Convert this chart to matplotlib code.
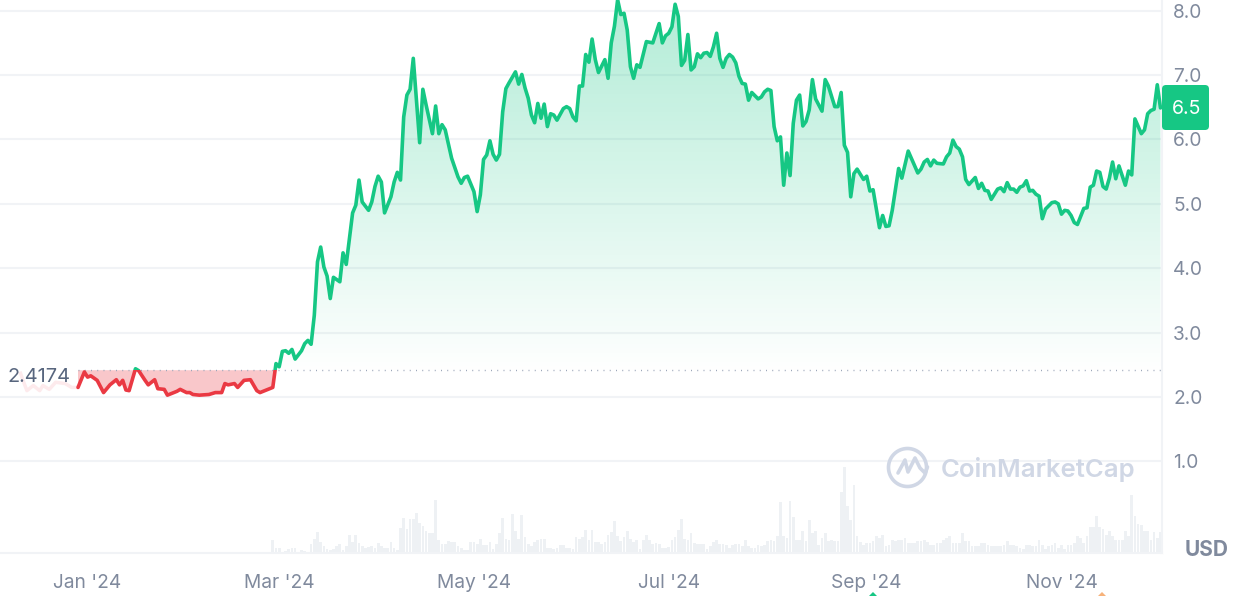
import numpy as np
import matplotlib
matplotlib.use("Agg")
import matplotlib.pyplot as plt
from matplotlib.colors import LinearSegmentedColormap
from matplotlib.patches import Rectangle, FancyBboxPatch
from matplotlib.lines import Line2D
from matplotlib.transforms import IdentityTransform

plt.rcParams['font.family'] = ['Inter', 'DejaVu Sans']

# ---- data ----
base_price = 2.4174
last_price = "6.5"
price_ticks = [1, 2, 3, 4, 5, 6, 7, 8]
price_tick_labels = ["1.0", "2.0", "3.0", "4.0", "5.0", "6.0", "7.0", "8.0"]
month_ticks = [0, 60, 121, 182, 244, 305]          # days since 1 Jan 2024
month_labels = ["Jan '24", "Mar '24", "May '24", "Jul '24", "Sep '24", "Nov '24"]

days = [
    -3, -1, 0, 1, 3, 5, 7, 9, 10, 11,
    12, 13, 15, 16, 18, 19, 21, 22, 24, 25,
    27, 28, 29, 31, 32, 33, 35, 38, 40, 42,
    43, 44, 46, 47, 49, 51, 53, 54, 56, 58,
    59, 60, 61, 62, 63, 64, 65, 67, 68, 69,
    70, 71, 72, 73, 74, 75, 76, 77, 79, 80,
    81, 83, 84, 85, 86, 88, 89, 90, 91, 92,
    93, 95, 96, 97, 98, 99, 100, 101, 102, 103,
    104, 105, 106, 108, 109, 110, 111, 112, 114, 116,
    117, 118, 119, 121, 122, 123, 124, 125, 126, 127,
    128, 129, 130, 131, 132, 134, 135, 136, 137, 138,
    139, 140, 141, 142, 143, 144, 145, 146, 147, 149,
    150, 151, 152, 153, 154, 155, 156, 157, 158, 159,
    160, 162, 163, 164, 165, 166, 167, 168, 169, 170,
    171, 172, 173, 175, 177, 179, 180, 181, 182, 183,
    184, 185, 186, 187, 188, 189, 190, 191, 192, 193,
    194, 195, 196, 197, 198, 199, 200, 201, 202, 203,
    204, 205, 206, 207, 208, 210, 211, 212, 213, 214,
    215, 216, 217, 218, 219, 220, 221, 222, 223, 224,
    225, 226, 227, 228, 230, 231, 232, 234, 235, 236,
    237, 238, 239, 240, 241, 243, 244, 245, 246, 248,
    249, 250, 251, 252, 254, 255, 257, 260, 261, 262,
    263, 264, 265, 266, 268, 269, 270, 271, 272, 273,
    274, 275, 276, 278, 279, 280, 281, 282, 283, 285,
    286, 287, 288, 289, 290, 291, 292, 293, 294, 295,
    296, 297, 298, 299, 300, 302, 303, 304, 305, 306,
    307, 308, 309, 310, 312, 313, 314, 315, 316, 317,
    318, 319, 320, 321, 322, 323, 325, 326, 327, 328,
    330, 331, 332, 333, 334, 335, 336,
]
prices = [
    2.15, 2.39, 2.31, 2.33, 2.26, 2.07, 2.19, 2.27, 2.19, 2.26,
    2.11, 2.10, 2.44, 2.41, 2.26, 2.19, 2.27, 2.13, 2.12, 2.03,
    2.07, 2.09, 2.12, 2.07, 2.07, 2.04, 2.03, 2.04, 2.07, 2.07,
    2.21, 2.19, 2.21, 2.15, 2.26, 2.27, 2.10, 2.07, 2.11, 2.15,
    2.52, 2.47, 2.71, 2.72, 2.68, 2.74, 2.59, 2.72, 2.83, 2.88,
    2.82, 3.27, 4.10, 4.33, 4.02, 3.88, 3.53, 3.86, 3.79, 4.24,
    4.06, 4.86, 4.98, 5.37, 5.03, 4.90, 5.03, 5.27, 5.43, 5.34,
    4.86, 5.11, 5.34, 5.49, 5.37, 6.35, 6.69, 6.78, 7.26, 6.61,
    5.95, 6.78, 6.54, 6.09, 6.52, 6.09, 6.23, 6.15, 5.71, 5.42,
    5.32, 5.41, 5.43, 5.19, 4.88, 5.14, 5.69, 5.76, 5.98, 5.77,
    5.68, 5.77, 6.43, 6.79, 6.88, 7.05, 6.86, 7.01, 6.80, 6.64,
    6.38, 6.26, 6.56, 6.33, 6.55, 6.20, 6.40, 6.38, 6.30, 6.48,
    6.51, 6.48, 6.35, 6.29, 6.83, 6.83, 7.32, 7.20, 7.56, 7.24,
    7.04, 7.24, 6.95, 7.50, 7.76, 8.17, 7.94, 7.96, 7.70, 7.13,
    6.95, 7.16, 7.12, 7.52, 7.50, 7.80, 7.50, 7.61, 7.65, 7.75,
    8.10, 7.91, 7.15, 7.23, 7.63, 7.08, 7.13, 7.33, 7.27, 7.34,
    7.35, 7.29, 7.44, 7.65, 7.26, 7.12, 7.26, 7.32, 7.28, 7.19,
    6.98, 6.87, 6.86, 6.61, 6.73, 6.63, 6.66, 6.74, 6.78, 6.76,
    6.20, 5.98, 6.04, 5.29, 5.79, 5.44, 6.25, 6.61, 6.69, 6.21,
    6.28, 6.46, 6.93, 6.63, 6.44, 6.93, 6.83, 6.51, 6.51, 6.73,
    5.91, 5.80, 5.11, 5.47, 5.54, 5.38, 5.43, 5.20, 5.22, 4.63,
    4.82, 4.65, 4.66, 4.90, 5.55, 5.40, 5.82, 5.48, 5.54, 5.65,
    5.69, 5.59, 5.68, 5.63, 5.62, 5.73, 5.79, 5.99, 5.89, 5.85,
    5.73, 5.38, 5.30, 5.41, 5.24, 5.32, 5.21, 5.20, 5.07, 5.23,
    5.25, 5.19, 5.33, 5.23, 5.23, 5.18, 5.26, 5.28, 5.36, 5.20,
    5.21, 5.15, 5.12, 4.77, 4.92, 5.02, 5.03, 5.00, 4.84, 4.90,
    4.89, 4.82, 4.71, 4.68, 4.93, 4.94, 5.26, 5.29, 5.51, 5.49,
    5.27, 5.23, 5.40, 5.65, 5.39, 5.59, 5.29, 5.51, 5.45, 6.32,
    6.09, 6.15, 6.40, 6.45, 6.47, 6.85, 6.49,
]

# Part of the history that is faded out before the selected period
faded_days = [-21, -20, -19, -17, -15, -14, -12, -10, -7, -5, -3]
faded_prices = [2.37, 2.23, 2.10, 2.18, 2.10, 2.18, 2.12, 2.23, 2.21, 2.15, 2.15]

# Volume in relative units
vol_early_start = -27
vol_early = [1] * 85
vol_a_start = 58
vol_a = [
    13, 5, 5, 1, 2, 4, 5, 5, 1, 3, 2, 1, 9, 14, 21, 11, 7, 4, 3, 4,
    7, 9, 3, 7, 18, 11, 18, 10, 7, 5, 6, 7, 5, 10, 7, 5, 5, 11, 5, 3,
    25, 35, 24, 34, 34, 40, 30, 27, 22, 20, 20, 53, 13, 9, 9, 12, 11, 11, 7, 5,
    3, 3, 11, 11, 9, 14, 8, 8, 11, 4, 9, 20, 35, 14, 13, 39, 22, 14, 38, 16,
    9, 7, 11, 13, 14, 14, 5, 5, 4, 5, 8, 8, 5, 5, 4, 16, 14, 16, 23, 13,
    23, 11, 11, 9, 11, 18, 21, 32, 17, 12, 16, 22, 14, 11, 13, 4, 13, 18, 13, 9,
    10, 9, 5, 5, 6, 13, 16, 23, 34, 14, 13, 20, 10, 9, 9, 9, 4, 7, 11, 13,
    9, 9, 8, 5, 8, 9, 9, 7, 13, 7, 5, 5, 8,
]
vol_b_start = 211
vol_b = [
    7, 8, 12, 13, 12, 17, 51, 17, 15, 52, 36, 13, 13, 22, 12, 33, 20, 22, 8, 15,
    20, 12, 13, 12, 12, 61, 86, 47, 33, 68, 17, 11, 8, 10, 10, 12, 17, 15, 18, 7,
    8, 13, 12, 13, 13, 15, 10, 10, 10, 12, 12, 13, 11, 8, 8, 10, 10, 13, 15, 17,
    10, 10, 10, 20, 12, 12, 7, 7, 7, 10, 10, 8, 7, 7, 7, 7, 8, 12, 8, 8,
    7, 5, 4, 8, 8, 7, 7, 13, 8, 4, 7, 8, 10, 5, 8, 4, 8, 8, 10, 17,
    15, 10, 17, 26, 26, 37, 26, 24, 18, 22, 17, 13, 13, 13, 22, 17, 58, 37, 29, 28,
    22, 22, 13, 21, 15, 21,
]

# ---- style ----
GREEN = "#16c784"
RED = "#ea3943"
GRID = "#f1f3f6"
BAR = "#eef1f4"
TEXT = "#808a9d"
W, H = 1244, 596

fig = plt.figure(figsize=(W / 100, H / 100), dpi=100, facecolor="white")
ax = fig.add_axes([0, (H - 553) / H, 1162 / W, 553 / H])
ax2 = ax.twinx()
ax.set_zorder(2)
ax.patch.set_visible(False)
ax2.set_zorder(1)

x0, x1 = -27.43, 336.48
y0, y1 = -0.421, 8.166
d = np.array(days, float)
p = np.array(prices, float)

# volume
for start, vals in ((vol_early_start, vol_early), (vol_a_start, vol_a), (vol_b_start, vol_b)):
    ax2.bar(np.arange(start, start + len(vals)), vals, width=0.85, color=BAR, linewidth=0)
ax2.set_ylim(0, 553)
ax2.set_xlim(x0, x1)
ax2.set_yticks([])
for s in ax2.spines.values():
    s.set_visible(False)

# grid
for v in price_ticks:
    ax.axhline(v, color=GRID, lw=1.5, zorder=1)

# red area (below the base price) and green gradient area (above)
ax.fill_between(d, p, base_price, where=p <= base_price, interpolate=True,
                color=RED, alpha=0.28, linewidth=0, zorder=2)
poly = ax.fill_between(d[d >= 58], p[d >= 58], base_price, where=p[d >= 58] >= base_price,
                       interpolate=True, color="none", linewidth=0, zorder=2)
cmap = LinearSegmentedColormap.from_list(
    "g", [(0.086, 0.78, 0.518, 0.33), (0.086, 0.78, 0.518, 0.005)])
grad = ax.imshow(np.linspace(0, 1, 256).reshape(-1, 1), extent=(x0, x1, base_price, y1),
                 aspect="auto", cmap=cmap, origin="upper", zorder=2, interpolation="bilinear")
grad.set_clip_path(poly.get_paths()[0], transform=ax.transData)

# base price dotted line
ax.plot([d[0], x1], [base_price, base_price], color="#9aa5b8", lw=1.0,
        linestyle=(0, (0.7, 3.8)), zorder=3)

# faded line, price line split on the base price
ax.plot(faded_days, faded_prices, color="#fdeaec", lw=2.5, zorder=3, solid_joinstyle="round")
for color, ya, yb in ((GREEN, base_price, y1), (RED, y0, base_price)):
    line, = ax.plot(d, p, color=color, lw=2.6, zorder=4,
                    solid_joinstyle="round", solid_capstyle="round")
    line.set_clip_path(Rectangle((x0, ya), x1 - x0, yb - ya, transform=ax.transData))

ax.set_xlim(x0, x1)
ax.set_ylim(y0, y1)
ax.yaxis.tick_right()
ax.yaxis.set_label_position("right")
ax.set_yticks(price_ticks, price_tick_labels)
ax.set_xticks(month_ticks, month_labels)
ax.tick_params(axis="y", length=0, pad=8, labelsize=13.8, labelcolor=TEXT)
ax.tick_params(axis="x", length=0, pad=15, labelsize=13.8, labelcolor=TEXT)
for name, s in ax.spines.items():
    s.set_visible(name in ("right", "bottom"))
    s.set_color(GRID)
    s.set_linewidth(1.5)

# base price label
ax.text(-5.4, base_price - 0.1, f"{base_price:.4f}", ha="right", va="center",
        fontsize=14.4, color="#58667e", zorder=5)

# pixel-anchored decorations
T = IdentityTransform()
fig.add_artist(FancyBboxPatch((1165, H - 127), 41, 39, boxstyle="round,pad=3,rounding_size=4",
                              fc=GREEN, ec="none", transform=T, zorder=6))
fig.text(1186.5 / W, 1 - 109.5 / H, last_price, color="white", fontsize=14,
         ha="center", va="center", zorder=7)
fig.text(1206.5 / W, 1 - 549.5 / H, "USD", color=TEXT, fontsize=15, fontweight="bold",
         ha="center", va="center")

LOGO = "#d0d7e5"
fig.text(1038.5 / W, 1 - 469 / H, "CoinMarketCap", color=LOGO, fontsize=18.5, fontweight="semibold",
         ha="center", va="center", zorder=6)
theta = np.radians(np.linspace(-50, 300 + 10 - 5, 120))
fig.add_artist(Line2D(907.5 + 19 * np.cos(theta), (H - 467.5) + 19 * np.sin(theta), color=LOGO, lw=2.6,
                      transform=T, zorder=6, solid_capstyle="round"))
fig.add_artist(Line2D([898, 905, 908, 915, 920, 925, 927.5],
                      [H - 473, H - 460, H - 472, H - 458, H - 468, H - 473, H - 467],
                      color=LOGO, lw=2.6, transform=T, zorder=6,
                      solid_joinstyle="round", solid_capstyle="round"))

# marks cut by the lower edge
fig.add_artist(Line2D([873], [0], marker="D", ms=4.5, color=GREEN, mew=0, transform=T))
fig.add_artist(Line2D([1101.5], [0], marker="D", ms=4.5, color="#f7b27a", mew=0, transform=T))

fig.savefig("out.png", dpi=100, facecolor="white")
